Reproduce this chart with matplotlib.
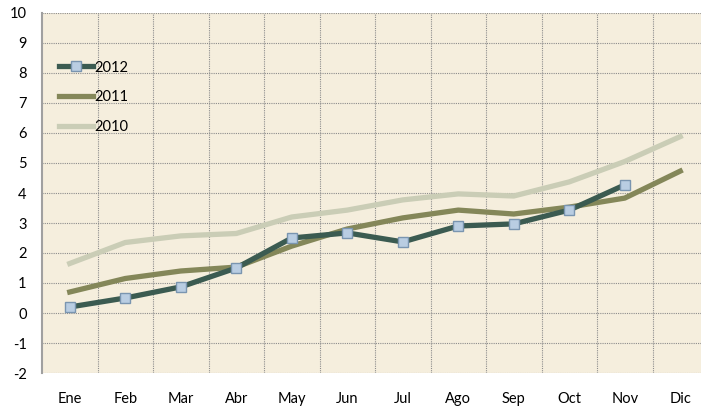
import numpy as np
import matplotlib
matplotlib.use("Agg")
import matplotlib.pyplot as plt

months = ['Ene', 'Feb', 'Mar', 'Abr', 'May', 'Jun', 'Jul', 'Ago', 'Sep', 'Oct', 'Nov', 'Dic']
v2012 = [0.2, 0.5, 0.87, 1.5, 2.5, 2.67, 2.37, 2.9, 2.97, 3.43, 4.27]
v2011 = [0.7, 1.15, 1.4, 1.53, 2.23, 2.8, 3.17, 3.43, 3.3, 3.53, 3.83, 4.73]
v2010 = [1.65, 2.35, 2.57, 2.65, 3.2, 3.43, 3.77, 3.97, 3.9, 4.37, 5.05, 5.88]

plt.rcParams['font.family'] = ['Lato', 'DejaVu Sans']
plt.rcParams['axes.unicode_minus'] = False

fig = plt.figure(figsize=(7.01, 4.11), dpi=100)
ax = fig.add_axes([42 / 701, 1 - 373 / 411, 666 / 701, 360 / 411])
ax.set_facecolor('#F5EEDD')

x = np.arange(len(months))
ax.plot(x[:len(v2012)], v2012, color='#3B5B51', linewidth=3.8, marker='s',
        markersize=6.5, markerfacecolor='#B9CDE2', markeredgecolor='#7A95B0',
        markeredgewidth=1.0, label='2012', zorder=5)
ax.plot(x, v2011, color='#848759', linewidth=3.8, label='2011', zorder=4)
ax.plot(x, v2010, color='#CACDB6', linewidth=3.8, label='2010', zorder=3)

ax.set_xlim(-0.5, 11.5)
ax.set_ylim(-2, 10)
ax.set_yticks(range(-2, 11))
ax.set_xticks(x)
ax.set_xticklabels(months)

# grid on category boundaries
ax.set_xticks(np.arange(0.5, 11.5, 1), minor=True)
ax.grid(True, which='major', axis='y', color='#8C8C8C', linestyle=(0, (1, 1)), linewidth=0.8)
ax.grid(True, which='minor', axis='x', color='#8C8C8C', linestyle=(0, (1, 1)), linewidth=0.8)
ax.set_axisbelow(True)

ax.tick_params(axis='both', which='both', length=0, labelsize=10.5, colors='black')
ax.tick_params(axis='x', pad=14)
ax.tick_params(axis='y', pad=11)
for s in ['top', 'right', 'bottom']:
    ax.spines[s].set_visible(False)
ax.spines['left'].set_color('#A0A0A0')
ax.spines['left'].set_linewidth(1.5)

ax.legend(loc='upper left', bbox_to_anchor=(17 / 666, 0.868), frameon=False,
          fontsize=10.5, handlelength=2.3, handletextpad=0.1, labelspacing=1.08,
          borderaxespad=0, borderpad=0)

fig.savefig('out.png', dpi=100)
